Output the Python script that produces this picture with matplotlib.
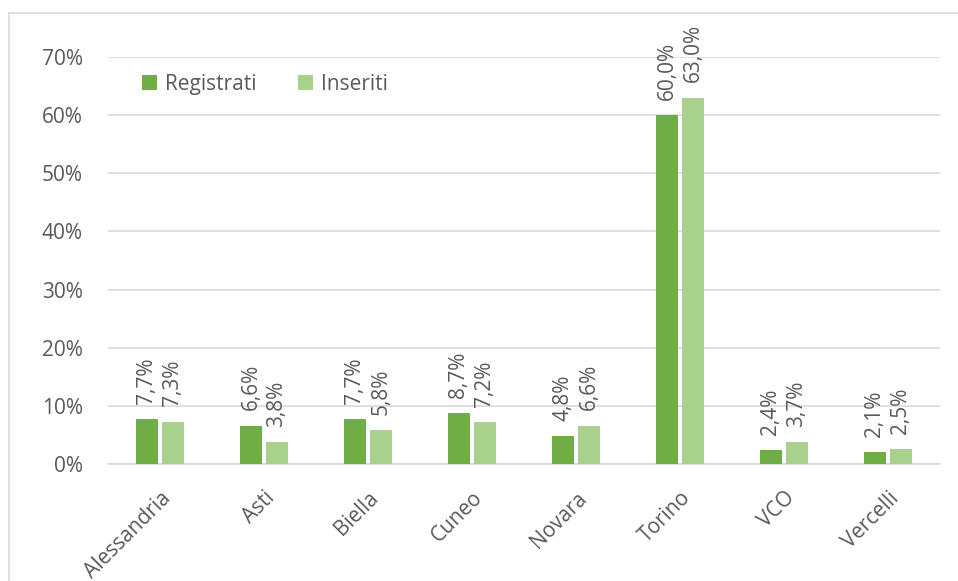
import matplotlib
matplotlib.use("Agg")
import matplotlib.pyplot as plt
import numpy as np
from matplotlib.patches import Rectangle

categories = ["Alessandria", "Asti", "Biella", "Cuneo", "Novara", "Torino", "VCO", "Vercelli"]
registrati = [7.7, 6.6, 7.7, 8.7, 4.8, 60.0, 2.4, 2.1]
inseriti = [7.3, 3.8, 5.8, 7.2, 6.6, 63.0, 3.7, 2.5]
series_names = ["Registrati", "Inseriti"]
yticks = [0, 10, 20, 30, 40, 50, 60, 70]

c_dark = "#70AD47"
c_light = "#A9D18E"
txt = "#595959"
grid = "#D9D9D9"
fs = 15

plt.rcParams['font.family'] = ['Open Sans', 'DejaVu Sans']

fig = plt.figure(figsize=(9.58, 5.81), dpi=100)
ax = fig.add_axes([108/958, (581-464)/581, (940-108)/958, (464-57)/581])

x = np.arange(len(categories))
w = 0.22
gap = 0.03
b1 = ax.bar(x - (w+gap)/2, registrati, w, color=c_dark, label=series_names[0], zorder=3)
b2 = ax.bar(x + (w+gap)/2, inseriti, w, color=c_light, label=series_names[1], zorder=3)

for bars, vals in ((b1, registrati), (b2, inseriti)):
    for r, v in zip(bars, vals):
        ax.annotate(f"{v:.1f}%".replace(".", ","), (r.get_x() + r.get_width()/2, v),
                    xytext=(0, 11), textcoords="offset points", rotation=90,
                    ha="center", va="bottom", fontsize=fs, color=txt)

ax.set_xlim(-0.5, len(categories) - 0.5)
ax.set_ylim(0, 70)
ax.set_yticks(yticks)
ax.set_yticklabels([f"{t}%" for t in yticks])
ax.set_xticks(x)
ax.set_xticklabels(categories, rotation=45, ha="right", rotation_mode="anchor")
ax.tick_params(axis="both", length=0, labelsize=fs, labelcolor=txt)
ax.tick_params(axis="y", pad=18)
ax.tick_params(axis="x", pad=17)
ax.grid(axis="y", color=grid, linewidth=1.2, zorder=0)
for s in ("top", "right", "left"):
    ax.spines[s].set_visible(False)
ax.spines["bottom"].set_color(grid)
ax.spines["bottom"].set_linewidth(1.2)

leg = ax.legend(loc="upper left", bbox_to_anchor=(142/958, 1 - 74/581), bbox_transform=fig.transFigure,
                ncol=2, frameon=False, fontsize=fs, handlelength=0.7, handleheight=0.7,
                handletextpad=0.4, columnspacing=2.0, labelcolor=txt, borderaxespad=0, borderpad=0)

fig.patches.append(Rectangle((9/958, -0.1), 1.2, 1 - 13/581 + 0.1, transform=fig.transFigure,
                             fill=False, edgecolor=grid, linewidth=1.2, zorder=0))

fig.savefig("out.png", dpi=100)
